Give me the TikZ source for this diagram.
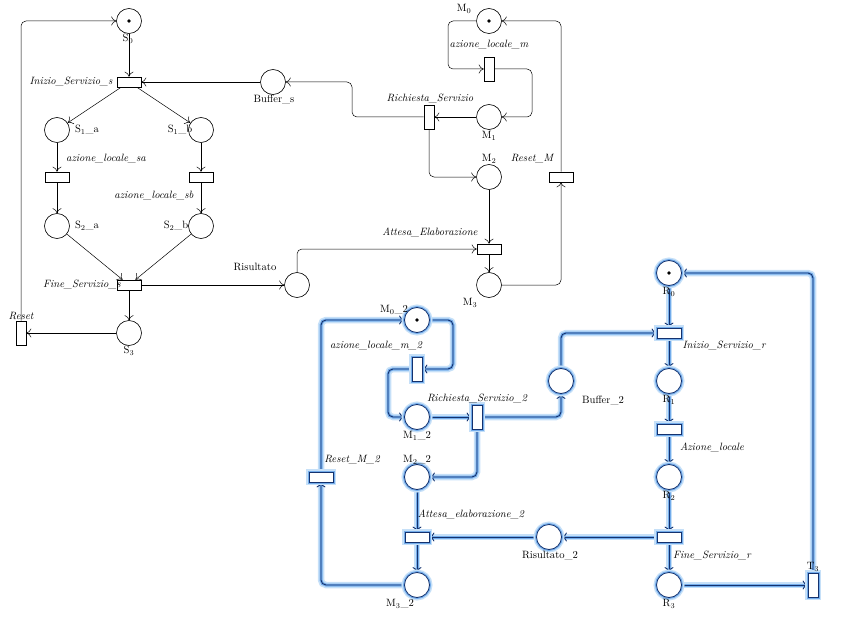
\documentclass[tikz,border=0pt]{standalone}
\usepackage{tikz}
\usetikzlibrary{arrows.meta,backgrounds}
\definecolor{haloout}{RGB}{198,224,248}
\definecolor{halomid}{RGB}{115,172,235}
\definecolor{halocore}{RGB}{20,50,110}
\newcommand{\lblsize}{\fontsize{10.6}{12}\selectfont}

\begin{document}
\begin{tikzpicture}[x=1pt,y=-1pt,font=\lblsize,
  place/.style={circle,draw,fill=white,minimum size=25pt,inner sep=0pt,line width=0.6pt},
  trh/.style={rectangle,draw,fill=white,minimum width=24pt,minimum height=10pt,inner sep=0pt,line width=0.6pt},
  trv/.style={rectangle,draw,fill=white,minimum width=10pt,minimum height=24pt,inner sep=0pt,line width=0.6pt},
  arc/.style={-{To[length=5pt,width=9pt]},rounded corners=5pt,line width=0.5pt},
  hl/.style={preaction={draw=haloout,line width=6pt},preaction={draw=halomid,line width=3pt},draw=halocore,line width=0.8pt},
  hlarc/.style={arc,preaction={draw=haloout,line width=6.5pt,-},preaction={draw=halomid,line width=3pt,-},draw=halocore,line width=0.9pt},
  tlbl/.style={font=\lblsize\itshape,inner sep=0pt},
  plbl/.style={inner sep=0pt}
]
  \useasboundingbox (0,0) rectangle (859,623);

  % server net
  \node[place] (S0) at (129,21) {};
  \node[trh] (Inizio_s) at (129,82) {};
  \node[place] (Buffer_s) at (273,82) {};
  \node[place] (S1a) at (57,130) {};
  \node[place] (S1b) at (201,130) {};
  \node[trh] (Az_sa) at (57,177) {};
  \node[trh] (Az_sb) at (201,177) {};
  \node[place] (S2a) at (57,226) {};
  \node[place] (S2b) at (201,226) {};
  \node[trh] (Fine_s) at (129,285) {};
  \node[place] (S3) at (129,333) {};
  \node[trv] (Reset) at (21,333) {};
  \node[place] (Risultato) at (297,285) {};

  \node[plbl] (S0_l) at (128,39) {S\textsubscript{0}};
  \node[tlbl] (Inizio_s_l) at (71,82) {Inizio\_Servizio\_s};
  \node[plbl] (Buffer_s_l) at (274,99) {Buffer\_s};
  \node[plbl] (S1a_l) at (87,130) {S\textsubscript{1}\_a};
  \node[plbl] (S1b_l) at (180,130) {S\textsubscript{1}\_b};
  \node[tlbl] (Az_sa_l) at (106,159) {azione\_locale\_sa};
  \node[tlbl] (Az_sb_l) at (154,196) {azione\_locale\_sb};
  \node[plbl] (S2a_l) at (87,226) {S\textsubscript{2}\_a};
  \node[plbl] (S2b_l) at (176,226) {S\textsubscript{2}\_b};
  \node[tlbl] (Fine_s_l) at (82,285) {Fine\_Servizio\_s};
  \node[plbl] (S3_l) at (129,351) {S\textsubscript{3}};
  \node[tlbl] (Reset_l) at (21,316) {Reset};
  \node[plbl] (Risultato_l) at (255,267) {Risultato};

  % machine net
  \node[place] (M0) at (489,21) {};
  \node[trv] (Az_m) at (489,69) {};
  \node[place] (M1) at (489,117) {};
  \node[trv] (Rich) at (429,117) {};
  \node[place] (M2) at (489,177) {};
  \node[trh] (ResetM) at (561,177) {};
  \node[trh] (Attesa) at (489,249) {};
  \node[place] (M3) at (489,285) {};

  \node[plbl] (M0_l) at (464,9) {M\textsubscript{0}};
  \node[tlbl] (Az_m_l) at (489,45) {azione\_locale\_m};
  \node[plbl] (M1_l) at (489,136) {M\textsubscript{1}};
  \node[tlbl] (Rich_l) at (430,99) {Richiesta\_Servizio};
  \node[plbl] (M2_l) at (489,159) {M\textsubscript{2}};
  \node[tlbl] (ResetM_l) at (532,159) {Reset\_M};
  \node[tlbl] (Attesa_l) at (430,232) {Attesa\_Elaborazione};
  \node[plbl] (M3_l) at (470,303) {M\textsubscript{3}};

  % second machine net (selected)
  \node[place,hl] (M0_2) at (417,320) {};
  \node[trv,hl] (Az_m2) at (417,369) {};
  \node[place,hl] (M1_2) at (417,417) {};
  \node[trv,hl] (Rich_2) at (477,417) {};
  \node[place,hl] (Buffer_2) at (561,381) {};
  \node[place,hl] (M2_2) at (417,477) {};
  \node[trh,hl] (Att_2) at (417,537) {};
  \node[place,hl] (M3_2) at (417,585) {};
  \node[trh,hl] (ResetM2) at (321,477) {};
  \node[place,hl] (Risultato_2) at (549,537) {};

  \node[plbl] (M0_2_l) at (394,310) {M\textsubscript{0}\_2};
  \node[tlbl] (Az_m2_l) at (376,346) {azione\_locale\_m\_2};
  \node[plbl] (M1_2_l) at (417,436) {M\textsubscript{1}\_2};
  \node[tlbl] (Rich_2_l) at (477,399) {Richiesta\_Servizio\_2};
  \node[plbl] (Buffer_2_l) at (603,400) {Buffer\_2};
  \node[plbl] (M2_2_l) at (417,460) {M\textsubscript{2}\_2};
  \node[tlbl] (ResetM2_l) at (352,460) {Reset\_M\_2};
  \node[tlbl] (Att_2_l) at (471,514) {Attesa\_elaborazione\_2};
  \node[plbl] (M3_2_l) at (400,604) {M\textsubscript{3}\_2};
  \node[plbl] (Risultato_2_l) at (550,556) {Risultato\_2};

  % resource net (selected)
  \node[place,hl] (R0) at (669,273) {};
  \node[trh,hl] (Inizio_r) at (669,333) {};
  \node[place,hl] (R1) at (669,381) {};
  \node[trh,hl] (Az_loc) at (669,429) {};
  \node[place,hl] (R2) at (669,477) {};
  \node[trh,hl] (Fine_r) at (669,537) {};
  \node[place,hl] (R3) at (669,585) {};
  \node[trv,hl] (T3) at (813,585) {};

  \node[plbl] (R0_l) at (669,292) {R\textsubscript{0}};
  \node[tlbl] (Inizio_r_l) at (724,346) {Inizio\_Servizio\_r};
  \node[plbl] (R1_l) at (669,400) {R\textsubscript{1}};
  \node[tlbl] (Az_loc_l) at (712,447) {Azione\_locale};
  \node[plbl] (R2_l) at (669,496) {R\textsubscript{2}};
  \node[tlbl] (Fine_r_l) at (712,555) {Fine\_Servizio\_r};
  \node[plbl] (R3_l) at (669,604) {R\textsubscript{3}};
  \node[plbl] (T3_l) at (813,567) {T\textsubscript{3}};

  % tokens
  \foreach \p in {S0,M0,M0_2,R0}
    \fill (\p.center) circle (1.8pt);

  \begin{scope}[on background layer]
    \draw[arc] (S0) -- (Inizio_s);
    \draw[arc] (Buffer_s) -- (Inizio_s);
    \draw[arc] (Inizio_s) -- (S1a);
    \draw[arc] (Inizio_s) -- (S1b);
    \draw[arc] (S1a) -- (Az_sa);
    \draw[arc] (Az_sa) -- (S2a);
    \draw[arc] (S1b) -- (Az_sb);
    \draw[arc] (Az_sb) -- (S2b);
    \draw[arc] (S2a) -- (Fine_s);
    \draw[arc] (S2b) -- (Fine_s);
    \draw[arc] (Fine_s) -- (S3);
    \draw[arc] (Fine_s) -- (Risultato);
    \draw[arc] (S3) -- (Reset);
    \draw[arc] (Reset) |- (S0);
    \draw[arc] (Risultato) |- (Attesa);

    \draw[arc] (M0) -- ++(-41,0) |- (Az_m);
    \draw[arc] (Az_m) -- ++(43,0) |- (M1);
    \draw[arc] (M1) -- (Rich);
    \draw[arc] (Rich) -- ++(-77,0) |- (Buffer_s);
    \draw[arc] (Rich) |- (M2);
    \draw[arc] (M2) -- (Attesa);
    \draw[arc] (Attesa) -- (M3);
    \draw[arc] (M3) -| (ResetM);
    \draw[arc] (ResetM) |- (M0);

    \draw[hlarc] (M0_2) -- ++(36,0) |- (Az_m2);
    \draw[hlarc] (Az_m2) -- ++(-29,0) |- (M1_2);
    \draw[hlarc] (M1_2) -- (Rich_2);
    \draw[hlarc] (Rich_2) -| (Buffer_2);
    \draw[hlarc] (Buffer_2) |- (Inizio_r);
    \draw[hlarc] (Rich_2) |- (M2_2);
    \draw[hlarc] (M2_2) -- (Att_2);
    \draw[hlarc] (Att_2) -- (M3_2);
    \draw[hlarc] (M3_2) -| (ResetM2);
    \draw[hlarc] (ResetM2) |- (M0_2);
    \draw[hlarc] (Risultato_2) -- (Att_2);

    \draw[hlarc] (R0) -- (Inizio_r);
    \draw[hlarc] (Inizio_r) -- (R1);
    \draw[hlarc] (R1) -- (Az_loc);
    \draw[hlarc] (Az_loc) -- (R2);
    \draw[hlarc] (R2) -- (Fine_r);
    \draw[hlarc] (Fine_r) -- (Risultato_2);
    \draw[hlarc] (Fine_r) -- (R3);
    \draw[hlarc] (R3) -- (T3);
    \draw[hlarc] (T3) |- (R0);
  \end{scope}
\end{tikzpicture}
\end{document}
